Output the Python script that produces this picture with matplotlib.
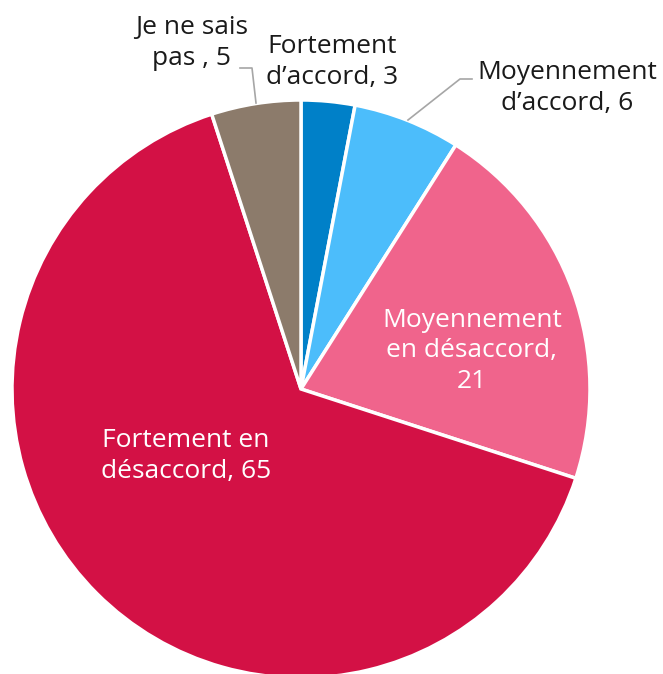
import matplotlib.pyplot as plt

labels = ["Fortement\nd\u2019accord, 3", "Moyennement\nd\u2019accord, 6",
          "Moyennement\nen d\u00e9saccord,\n21", "Fortement en\nd\u00e9saccord, 65",
          "Je ne sais\npas , 5"]
values = [3, 6, 21, 65, 5]
colors = ["#0080C8", "#4CBDFB", "#F0648C", "#D31145", "#8C7B6B"]

plt.rcParams["font.family"] = ["Open Sans", "DejaVu Sans"]

W, H = 663, 674
fig = plt.figure(figsize=(W / 100, H / 100), dpi=100)
ax = fig.add_axes([0, 0, 1, 1])

cx, cy, r = 301, H - 389, 289
ax.pie(values, colors=colors, startangle=90, counterclock=False,
       center=(cx, cy), radius=r, frame=True,
       wedgeprops=dict(edgecolor="white", linewidth=2.5))
ax.set_xlim(0, W)
ax.set_ylim(0, H)
ax.set_aspect("equal")
ax.axis("off")

# label positions in pixels (x, y from top), text colour
pos = [(332, 62, "#1a1a1a"), (567, 88, "#1a1a1a"), (472, 351, "white"),
       (186, 456, "white"), (192, 43, "#1a1a1a")]
for lab, (x, y, c) in zip(labels, pos):
    ax.text(x, H - y, lab, ha="center", va="center", fontsize=19,
            color=c, linespacing=1.28)

# leader lines
ax.plot([240, 252, 256], [H - 68, H - 68, H - 103], color="#A6A6A6", lw=1.2)
ax.plot([472, 460, 408], [H - 79, H - 79, H - 120], color="#A6A6A6", lw=1.2)

fig.savefig("out.png", dpi=100)
